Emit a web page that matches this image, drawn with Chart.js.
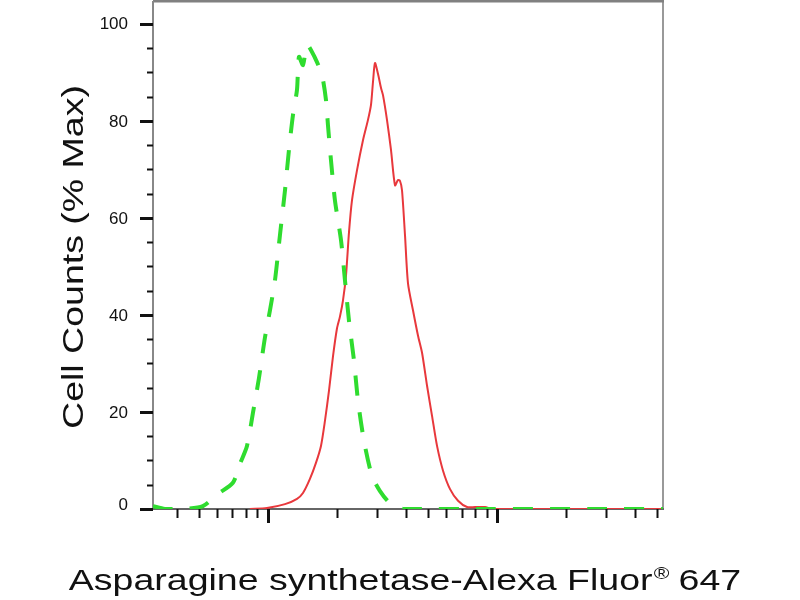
<!DOCTYPE html>
<html lang="en">
<head>
  <meta charset="UTF-8" />
  <title>Asparagine synthetase flow histogram</title>
  <script src="https://cdn.jsdelivr.net/npm/chart.js"></script>
  <style>
    * { margin: 0; padding: 0; box-sizing: border-box; }
    body { background: #fff; width: 800px; height: 600px; overflow: hidden; }
    #wrap { position: relative; width: 800px; height: 600px; }
  </style>
</head>
<body>
<div id="wrap"><canvas id="histChart"></canvas></div>

<script>
// isotype control (green dashed)
const greenX = [31.5, 35.5, 43.4, 52.0, 60.5, 70.3, 75.5, 81.0, 86.0, 91.3, 97.0, 102.0, 107.3, 112.8, 118.7, 123.5, 128.6, 133.9, 136.6, 142.2, 148.0, 155.7, 163.7, 172.1, 179.2, 182.8, 188.4, 196.1, 208.4, 216.9, 225.8, 237.4, 247.2, 262.6, 284.6, 308.4, 341.0, 388.6, 461.1, 5300];
const greenY = [0.6, 0, 0, 0.6, 3.1, 5.4, 9.3, 13.0, 19.8, 26.9, 35.3, 40.9, 47.1, 56.4, 65.7, 74.0, 81.2, 86.4, 93.2, 91.5, 95.7, 94.2, 92.1, 89.5, 84.3, 79.1, 71.9, 63.6, 55.4, 47.1, 38.8, 30.6, 22.3, 14.0, 6.8, 3.7, 1.2, 0, 0, 0];

// stained sample (red solid)
const redX = [83.4, 99.0, 118.7, 133.9, 142.2, 152.5, 162.0, 170.4, 177.4, 184.7, 192.2, 200.1, 206.3, 212.6, 219.1, 225.8, 232.7, 244.7, 259.9, 273.3, 281.7, 287.4, 293.2, 302.2, 311.4, 317.8, 330.8, 344.4, 358.6, 369.6, 377.1, 384.7, 396.5, 408.6, 429.8, 451.9, 470.5, 494.8, 520.2, 547.0, 581.0, 623.5, 675.6, 739.6, 801.4, 886.4, 951.0, 5300];
const redY = [0, 0.2, 1.0, 2.1, 3.3, 6.2, 9.5, 13.0, 18.2, 24.4, 31.4, 37.2, 39.7, 43.0, 48.1, 57.0, 63.6, 69.8, 76.0, 80.2, 83.3, 88.0, 91.9, 89.7, 86.8, 85.3, 80.2, 74.0, 66.7, 67.8, 67.6, 65.7, 56.4, 46.5, 40.9, 35.7, 32.2, 25.4, 19.2, 13.0, 7.9, 4.1, 1.7, 0.4, 0.4, 0.4, 0, 0];

const yTickLabels = [0, 20, 40, 60, 80, 100];
const xDecades = [10, 100, 1000];
const xTitle = ["Asparagine synthetase-Alexa Fluor", "\u00AE", " 647"];
const yTitle = "Cell Counts (% Max)";

const FONT = "'Liberation Sans', Arial, sans-serif";

function pts(xs, ys) {
  return xs.map((x, i) => ({ x: x, y: ys[i] }));
}

// frame, tick marks, labels and titles
const decor = {
  id: "decor",
  beforeDatasetsDraw(chart) {
    const { ctx, chartArea: a } = chart;
    ctx.save();
    ctx.lineWidth = 2;
    ctx.strokeStyle = "#999";
    ctx.beginPath();
    ctx.moveTo(a.right, a.top); ctx.lineTo(a.right, a.bottom);
    ctx.stroke();
    ctx.strokeStyle = "#808080";
    ctx.lineWidth = 3;
    ctx.beginPath();
    ctx.moveTo(a.left, a.top); ctx.lineTo(a.right + 1, a.top);
    ctx.stroke();
    ctx.lineWidth = 2;
    ctx.strokeStyle = "#888";
    ctx.beginPath();
    ctx.moveTo(a.left, a.top); ctx.lineTo(a.left, a.bottom);
    ctx.stroke();
    ctx.strokeStyle = "#666";
    ctx.beginPath();
    ctx.moveTo(a.left - 12, a.bottom); ctx.lineTo(a.right + 1, a.bottom);
    ctx.stroke();
    ctx.restore();
  },
  afterDraw(chart) {
    const { ctx, chartArea: a } = chart;
    const xs = chart.scales.x, ys = chart.scales.y;
    ctx.save();
    ctx.strokeStyle = "#111";
    ctx.fillStyle = "#111";

    // y ticks every 5, labelled every 20
    for (let v = 0; v <= 100; v += 5) {
      const py = Math.round(ys.getPixelForValue(v)) + 0.5;
      const major = v % 20 === 0;
      ctx.lineWidth = major ? 3 : 2;
      ctx.beginPath();
      ctx.moveTo(a.left - (major ? 13 : 6), py);
      ctx.lineTo(a.left, py);
      ctx.stroke();
    }
    ctx.font = "17px " + FONT;
    ctx.textAlign = "right";
    ctx.textBaseline = "middle";
    yTickLabels.forEach(v => {
      const py = ys.getPixelForValue(v) + 1;
      ctx.fillText(String(v), a.left - 25, v === 0 ? py - 5 : py);
    });

    // log ticks on x
    xDecades.forEach(d => {
      for (let k = 1; k <= 9; k++) {
        const v = k * d;
        if (v < xs.min || v > xs.max) continue;
        const px = Math.round(xs.getPixelForValue(v)) + 0.5;
        const major = k === 1;
        ctx.lineWidth = major ? 3 : 2;
        ctx.beginPath();
        ctx.moveTo(px, a.bottom);
        ctx.lineTo(px, a.bottom + (major ? 14 : 9));
        ctx.stroke();
      }
    });

    // x title with superscript mark
    ctx.textAlign = "left";
    ctx.textBaseline = "alphabetic";
    const big = "30px " + FONT, small = "17px " + FONT;
    ctx.font = big;
    const w1 = ctx.measureText(xTitle[0]).width;
    const w3 = ctx.measureText(xTitle[2]).width;
    ctx.font = small;
    const w2 = ctx.measureText(xTitle[1]).width;
    const total = w1 + w2 + w3;
    ctx.save();
    ctx.translate(405, 590);
    ctx.scale(1.25, 1);
    let x0 = -total / 2;
    ctx.font = big;
    ctx.fillText(xTitle[0], x0, 0);
    ctx.font = small;
    ctx.fillText(xTitle[1], x0 + w1 + 1, -11);
    ctx.font = big;
    ctx.fillText(xTitle[2], x0 + w1 + w2, 0);
    ctx.restore();

    // y title
    ctx.save();
    ctx.translate(83, 257);
    ctx.rotate(-Math.PI / 2);
    ctx.scale(1.25, 1);
    ctx.font = big;
    ctx.textAlign = "center";
    ctx.fillText(yTitle, 0, 0);
    ctx.restore();

    ctx.restore();
  }
};

new Chart(document.getElementById("histChart"), {
  type: "line",
  data: {
    datasets: [
      {
        label: "Isotype control",
        data: pts(greenX, greenY),
        borderColor: "#2fdc2f",
        borderWidth: 4,
        borderDash: [20, 17],
        pointRadius: 0,
        tension: 0.25,
        fill: false
      },
      {
        label: "Asparagine synthetase",
        data: pts(redX, redY),
        borderColor: "#e8383c",
        borderWidth: 2,
        pointRadius: 0,
        tension: 0.25,
        fill: false
      }
    ]
  },
  options: {
    responsive: true,
    maintainAspectRatio: false,
    animation: false,
    layout: { padding: { top: 1, right: 137, left: 0, bottom: 0 } },
    plugins: { legend: { display: false }, tooltip: { enabled: false } },
    scales: {
      x: {
        type: "logarithmic",
        min: 31.5,
        max: 5300,
        ticks: { display: false },
        grid: { display: false },
        border: { display: false },
        afterFit: s => { s.height = 91; }
      },
      y: {
        type: "linear",
        min: 0,
        max: 104.7,
        ticks: { display: false },
        grid: { display: false },
        border: { display: false },
        afterFit: s => { s.width = 153; }
      }
    }
  },
  plugins: [decor]
});
</script>
</body>
</html>
